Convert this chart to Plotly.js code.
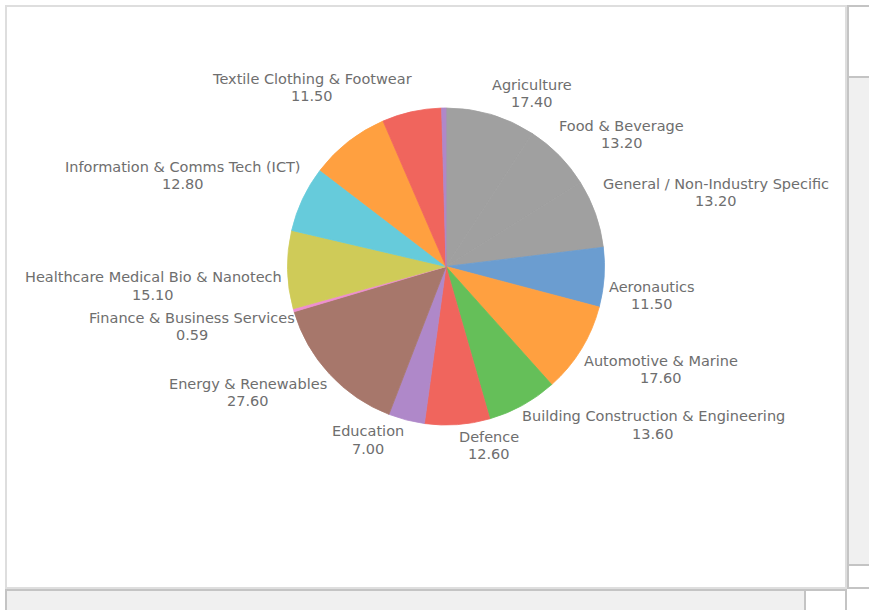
<!DOCTYPE html>
<html>
<head>
<meta charset="utf-8">
<script src="https://cdn.plot.ly/plotly-3.0.1.min.js"></script>
<style>
  html, body { margin: 0; padding: 0; width: 869px; height: 610px; overflow: hidden; background: #ffffff; }
  .box { position: absolute; box-sizing: border-box; }
  #chartbox { left: 5px; top: 5px; width: 842px; height: 584px; border: 2px solid #dedede; background: #fff; }
  #rtop { left: 847px; top: 5px; width: 30px; height: 73px; border-left: 2px solid #c4c4c4; border-top: 2px solid #c4c4c4; border-bottom: 2px solid #c4c4c4; background: #fff; }
  #rmid { left: 847px; top: 78px; width: 30px; height: 487px; border-left: 2px solid #c4c4c4; background: #f0f0f0; }
  #rbot { left: 847px; top: 564px; width: 30px; height: 25px; border-left: 2px solid #c4c4c4; border-top: 2px solid #c4c4c4; border-bottom: 2px solid #c4c4c4; background: #fff; }
  #bleft { left: 5px; top: 589px; width: 801px; height: 30px; border-left: 2px solid #c4c4c4; border-top: 2px solid #c4c4c4; border-right: 2px solid #c4c4c4; background: #f0f0f0; }
  #bright { left: 806px; top: 589px; width: 41px; height: 30px; border-top: 2px solid #c4c4c4; border-right: 2px solid #c4c4c4; background: #fff; }
  #plot { position: absolute; left: 0; top: 0; width: 869px; height: 610px; }
</style>
</head>
<body>
<div class="box" id="chartbox"></div>
<div class="box" id="rtop"></div>
<div class="box" id="rmid"></div>
<div class="box" id="rbot"></div>
<div class="box" id="bleft"></div>
<div class="box" id="bright"></div>
<div id="plot"></div>
<script>
// ---- data ----
// slices in drawing order (clockwise from 12 o'clock); '' = slice drawn without a label
const sliceNames = [
  'Agriculture',
  'Food & Beverage',
  'General / Non-Industry Specific',
  'Aeronautics',
  'Automotive & Marine',
  'Building Construction & Engineering',
  'Defence',
  'Education',
  'Energy & Renewables',
  'Finance & Business Services',
  'Healthcare Medical Bio & Nanotech',
  'Information & Comms Tech (ICT)',
  '',
  'Textile Clothing & Footwear',
  ''
];
const sliceValues = [17.40, 13.20, 13.20, 11.50, 17.60, 13.60, 12.60, 7.00, 27.60, 0.59, 15.10, 12.80, 15.40, 11.50, 0.84];
const sliceColors = ['#a0a0a0', '#a0a0a0', '#a0a0a0', '#6b9dd0', '#ffa040', '#65bf59', '#f0655d',
                     '#af88c9', '#a7776b', '#ee8fd0', '#cfcb58', '#66cbdb', '#ffa040', '#f0655d', '#af88c9'];

// ---- layout: label block positions in window pixels [centerX, line1Y, line2Y] ----
const labelPos = [
  [532, 85, 102],
  [621.5, 126, 142.5],
  [716, 184, 201],
  [652, 287, 304],
  [661, 361, 378],
  [653, 416, 434],
  [489, 437, 454],
  [368, 431, 449],
  [248, 384, 401],
  [192, 318, 335],
  [153, 277, 295],
  [183, 167, 184],
  null,
  [312, 79.5, 96],
  null
];

const W = 869, H = 610;
const pie = { cx: 446, cy: 266.5, r: 158.5 };

const labelFont = { family: 'DejaVu Sans, sans-serif', size: 14.5, color: '#6e6e6e' };
const annotations = [];
sliceNames.forEach((name, i) => {
  const p = labelPos[i];
  if (!name || !p) return;
  annotations.push({
    xref: 'paper', yref: 'paper', x: p[0] / W, y: 1 - p[1] / H,
    xanchor: 'center', yanchor: 'middle', showarrow: false,
    text: name, font: labelFont
  });
  annotations.push({
    xref: 'paper', yref: 'paper', x: p[0] / W, y: 1 - p[2] / H,
    xanchor: 'center', yanchor: 'middle', showarrow: false,
    text: sliceValues[i].toFixed(2), font: labelFont
  });
});

const trace = {
  type: 'pie',
  values: sliceValues,
  marker: { colors: sliceColors, line: { width: 0.8, color: sliceColors } },
  sort: false,
  direction: 'clockwise',
  rotation: 0,
  textinfo: 'none',
  hoverinfo: 'none',
  showlegend: false,
  domain: {
    x: [(pie.cx - pie.r) / W, (pie.cx + pie.r) / W],
    y: [1 - (pie.cy + pie.r) / H, 1 - (pie.cy - pie.r) / H]
  }
};

const layout = {
  width: W, height: H,
  margin: { l: 0, r: 0, t: 0, b: 0 },
  paper_bgcolor: 'rgba(0,0,0,0)',
  plot_bgcolor: 'rgba(0,0,0,0)',
  showlegend: false,
  annotations: annotations
};

Plotly.newPlot('plot', [trace], layout, { displayModeBar: false, staticPlot: true });
</script>
</body>
</html>
